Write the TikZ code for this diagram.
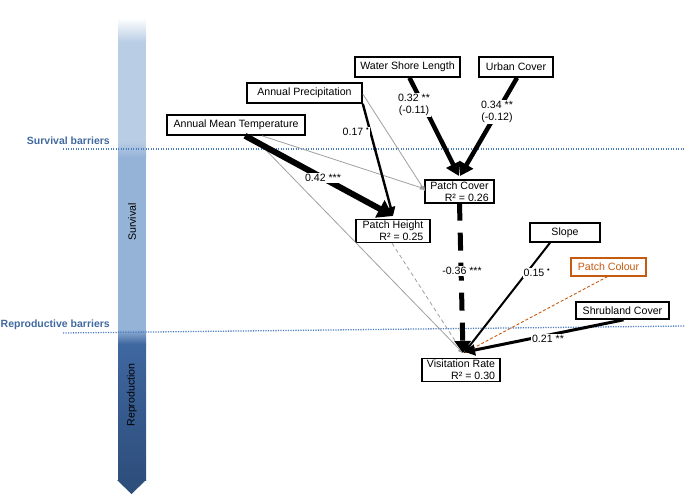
\documentclass[tikz,border=0pt]{standalone}
\usepackage{fontspec}
\setmainfont{Liberation Sans}
\usetikzlibrary{arrows.meta}
\definecolor{barA}{HTML}{B9CDE5}
\definecolor{barB}{HTML}{95B3D7}
\definecolor{barC}{HTML}{3F67A0}
\definecolor{barD}{HTML}{2E4E7C}
\definecolor{barrier}{HTML}{4A7CC0}
\definecolor{barriertext}{HTML}{41699F}
\definecolor{brown}{HTML}{C55A11}
\begin{document}
\begin{tikzpicture}[x=1pt,y=-1pt,
  txt/.style={font=\fontsize{10.6}{12}\selectfont},
  box/.style={txt,draw=black,line width=1.6pt,fill=white,inner xsep=4pt,inner ysep=2pt,minimum height=20pt},
  twobox/.style={box,align=right,inner ysep=1.5pt},
  lab/.style={txt,fill=white,inner sep=1pt,align=center},
  gray arrow/.style={draw=gray!75,line width=0.8pt,-{Triangle[length=5pt,width=4.5pt]}},
  barrierline/.style={draw=barrier,line width=1.3pt,dash pattern=on 1.2pt off 1.3pt},
  barrierlab/.style={font=\fontsize{10.5}{12}\selectfont\bfseries,text=barriertext,anchor=east,inner sep=0pt}
]
\useasboundingbox (0,0) rectangle (685,495);
% ---- vertical gradient bar ----
\fill[white] (118,0) rectangle (146,18);
\shade[top color=white,bottom color=barA] (118,18) rectangle (146,42);
\fill[barA] (118,42) rectangle (146,142);
\shade[top color=barA,bottom color=barB] (118,142) rectangle (146,157);
\fill[barB] (118,157) rectangle (146,329);
\shade[top color=barB,bottom color=barC] (118,329) rectangle (146,344);
\shade[top color=barC,bottom color=barD] (118,344) rectangle (146,480.5);
\fill[barD] (117,480) -- (146,480) -- (131.5,494) -- cycle;
\node[txt,rotate=90] (survival) at (132,222) {Survival};
\node[txt,rotate=90] (reproduction) at (132,395) {Reproduction};
% ---- barrier lines ----
\coordinate (sbL) at (63,149);
\coordinate (sbR) at (685,149);
\coordinate (rbL) at (63,333);
\coordinate (rbR) at (685,326);
\draw[barrierline] (sbL) -- (sbR);
\draw[barrierline] (rbL) -- (rbR);
\node[barrierlab] (sblab) at (110,141) {Survival barriers};
\node[barrierlab] (rblab) at (110,325) {Reproductive barriers};
% ---- nodes ----
\node[box,minimum width=105pt] (wsl) at (407.5,67) {Water Shore Length};
\node[box,minimum width=74pt] (uc) at (516,67) {Urban Cover};
\node[box,minimum width=115pt] (ap) at (304.5,93) {Annual Precipitation};
\node[box,minimum width=138pt] (amt) at (236,125) {Annual Mean Temperature};
\node[twobox,minimum width=69pt] (pc) at (459.5,191.5) {Patch Cover\\R² = 0.26};
\node[twobox,minimum width=74pt] (ph) at (393,231) {Patch Height\\R² = 0.25};
\node[box,minimum width=70pt,minimum height=19pt] (slope) at (565,232.5) {Slope};
\node[box,draw=brown,text=brown,line width=1.2pt,minimum width=75pt,minimum height=18pt] (pcol) at (608.5,267) {Patch Colour};
\node[box,minimum width=93pt,minimum height=17pt] (shrub) at (622.5,310.5) {Shrubland Cover};
\node[twobox,minimum width=78pt] (vr) at (461,370) {Visitation Rate\\R² = 0.30};
% ---- anchor points ----
\coordinate (phT) at (393,216);
\coordinate (pcT) at (459,176);
\coordinate (pcW) at (425,189);
\coordinate (vrT) at (463,353);
% ---- gray edges ----
\draw[gray arrow] ([xshift=26pt]amt.south) -- (pcW);
\draw[gray arrow] ([xshift=16pt]amt.south) -- (vrT);
\draw[gray arrow] ([yshift=-1pt]ap.east) -- ([yshift=-2pt]pcW);
\draw[gray arrow,dash pattern=on 4pt off 3pt] ([xshift=-1pt]ph.south) -- (vrT);
\draw[draw=brown,line width=0.9pt,dash pattern=on 3pt off 2pt,-{Triangle[length=5pt,width=4.5pt]}] ([xshift=-1pt]pcol.south) -- ([xshift=1pt]vrT);
% ---- black edges ----
\draw[line width=6pt,-{Triangle[length=15pt,width=19pt]}] ([xshift=9pt]amt.south) -- (phT);
\draw[line width=2.4pt,-{Triangle[length=9pt,width=9pt]}] (ap.south east) -- (phT);
\draw[line width=4.5pt,-{Triangle[length=13pt,width=15pt]}] ([xshift=2pt]wsl.south) -- (pcT);
\draw[line width=4.5pt,-{Triangle[length=13pt,width=15pt]}] ([xshift=1pt]uc.south) -- ([xshift=1pt]pcT);
\draw[line width=5pt,dash pattern=on 18pt off 12pt,-{Triangle[length=12pt,width=16pt]}] ([yshift=1pt]pc.south) -- (vrT);
\draw[line width=2pt,-{Triangle[length=9pt,width=9pt]}] ([xshift=-15pt]slope.south) -- ([xshift=1pt]vrT);
\draw[line width=3pt,-{Triangle[length=10pt,width=11pt]}] ([xshift=1pt]shrub.south) -- ([xshift=2pt,yshift=1pt]vrT);
% ---- labels ----
\node[lab] (l1) at (323,178) {0.42 ***};
\node[lab] (l2) at (356,132) {0.17 \textsuperscript{•}};
\node[lab] (l3) at (414,105) {0.32 **\\(-0.11)};
\node[lab] (l4) at (497,112) {0.34 **\\(-0.12)};
\node[lab] (l5) at (462,271) {-0.36 ***};
\node[lab] (l6) at (537,273) {0.15 \textsuperscript{•}};
\node[lab] (l7) at (548,339) {0.21 **};
\end{tikzpicture}
\end{document}
